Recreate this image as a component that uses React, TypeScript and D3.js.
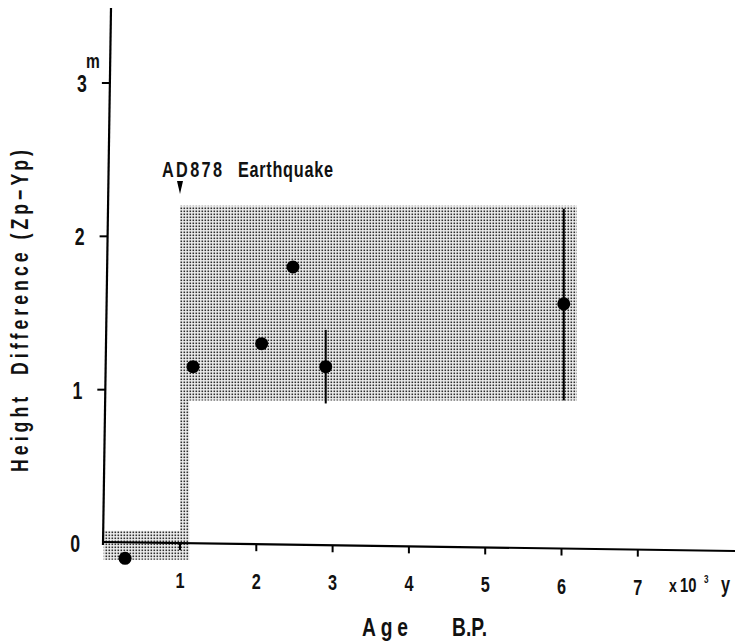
import React from "react";
import * as d3 from "d3";

const xTicks = [1, 2, 3, 4, 5, 6, 7];
const yTicks = [0, 1, 2, 3];
const pointAges = [0.28, 1.17, 2.07, 2.48, 2.91, 6.03];
const pointHeights = [-0.1, 1.15, 1.3, 1.8, 1.15, 1.56];
const errLow = [null, null, null, null, 0.91, 0.93];
const errHigh = [null, null, null, null, 1.39, 2.18];
// shaded band outline (age, height)
const bandAges = [0, 1.0, 1.0, 6.2, 6.2, 1.12, 1.12, 0];
const bandHeights = [0.08, 0.08, 2.2, 2.2, 0.93, 0.93, -0.11, -0.11];

const FONT = "'Liberation Sans', Arial, sans-serif";
const SX = 0.74;

type TP = { x: number; y: number; size: number; len?: number; anchor?: string; rot?: number; children: React.ReactNode };
function T({ x, y, size, len, anchor, rot, children }: TP) {
  return (
    <text
      transform={`translate(${x},${y}) rotate(${rot || 0}) scale(${SX},1)`}
      fontSize={size}
      fontWeight="bold"
      textAnchor={anchor || "start"}
      textLength={len ? len / SX : undefined}
      lengthAdjust="spacing"
      style={{ whiteSpace: "pre" }}
    >
      {children}
    </text>
  );
}

export default function App() {
  const W = 737, H = 641;
  const x = d3.scaleLinear().domain([0, 7]).range([103.7, 637.8]);
  const y = d3.scaleLinear().domain([0, 3]).range([543, 83]);
  // slightly tilted axes like the scanned original
  const yAxisX = (py: number) => 103 + ((545 - py) / (545 - 8)) * 8;
  const xAxisY = (px: number) => 542 + ((px - 103) / (735 - 103)) * 9;

  const band = d3.line<number>()
    .x((i) => x(bandAges[i]))
    .y((i) => y(bandHeights[i]))
    .curve(d3.curveLinearClosed)(bandAges.map((_, i) => i));

  return (
    <svg width={W} height={H} style={{ position: "absolute", left: 0, top: 0, background: "#fff" }} fontFamily={FONT} fill="#111">
      <defs>
        <pattern id="dots" width="3" height="3" patternUnits="userSpaceOnUse">
          <rect x="0" y="0" width="3" height="3" fill="#eeeeee" />
          <rect x="0.5" y="0.5" width="1.6" height="1.6" fill="#2e2e2e" />
        </pattern>
      </defs>
      <path d={band || ""} fill="url(#dots)" stroke="none" />

      {/* axes */}
      <line x1={yAxisX(545)} y1={545} x2={yAxisX(8)} y2={8} stroke="#000" strokeWidth={2.2} />
      <line x1={103} y1={xAxisY(103)} x2={735} y2={xAxisY(735)} stroke="#000" strokeWidth={2.2} />

      {yTicks.map((t) => {
        const py = y(t);
        const ax = yAxisX(py);
        return (
          <g key={"y" + t}>
            {t > 0 && <line x1={ax - 8} y1={py} x2={ax} y2={py} stroke="#000" strokeWidth={2} />}
            <T x={ax - 23} y={py + 9} size={24} anchor="end">{t}</T>
          </g>
        );
      })}
      <T x={86} y={68} size={21}>m</T>

      {xTicks.map((t) => {
        const px = x(t);
        const ay = xAxisY(px);
        return (
          <g key={"x" + t}>
            <line x1={px} y1={ay} x2={px} y2={ay + 7} stroke="#000" strokeWidth={2} />
            <T x={px} y={ay + 45} size={22} anchor="middle">{t}</T>
          </g>
        );
      })}
      <T x={669} y={592} size={19}>x</T>
      <T x={680} y={592} size={20}>10</T>
      <T x={704} y={583} size={11}>3</T>
      <T x={721} y={592} size={22}>y</T>

      <T x={362} y={636} size={26} len={46}>Age</T>
      <T x={452} y={636} size={26} len={35}>B.P.</T>

      <T x={28} y={311} size={24} rot={-90} anchor="middle" len={322}>Height  Difference (Zp−Yp)</T>

      <T x={162} y={177} size={22} len={60}>AD878</T>
      <T x={238} y={177} size={22} len={95}>Earthquake</T>
      <path d={`M${x(1) - 3},181 L${x(1) + 3},181 L${x(1)},194 Z`} fill="#000" />

      {pointAges.map((a, i) => (
        errLow[i] != null ? (
          <line key={"e" + i} x1={x(a)} x2={x(a)} y1={y(errLow[i] as number)} y2={y(errHigh[i] as number)} stroke="#000" strokeWidth={2} />
        ) : null
      ))}
      {pointAges.map((a, i) => (
        <circle key={"p" + i} cx={x(a)} cy={y(pointHeights[i])} r={6.5} fill="#000" />
      ))}
    </svg>
  );
}
